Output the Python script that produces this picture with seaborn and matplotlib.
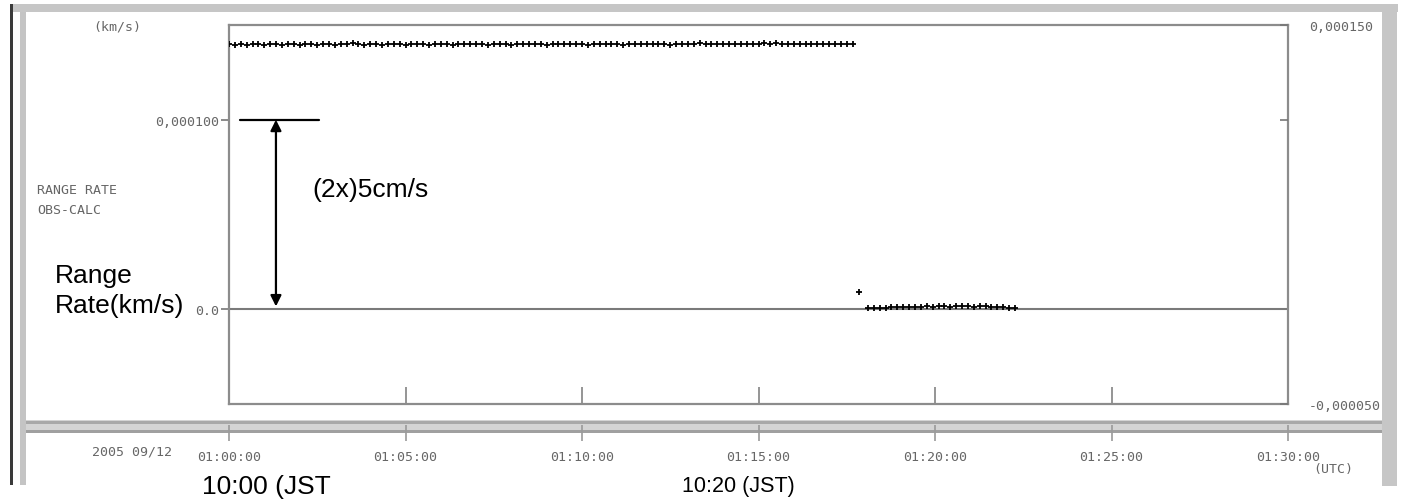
import numpy as np
import pandas as pd
import matplotlib
matplotlib.use("Agg")
import matplotlib.pyplot as plt
from matplotlib import font_manager
from matplotlib.patches import Rectangle
import seaborn as sns

# ---------------- data ----------------
x_ticks_min = [0, 5, 10, 15, 20, 25, 30]
x_tick_labels = ["01:00:00", "01:05:00", "01:10:00", "01:15:00",
                 "01:20:00", "01:25:00", "01:30:00"]
y_left_ticks = [0.0, 0.0001]
y_left_labels = ["0.0", "0,000100"]
y_right_ticks = [-0.00005, 0.0001, 0.00015]
y_right_labels = ["-0,000050", "", "0,000150"]

cadence_min = 1.0 / 6.0          # one sample every 10 s
a_start_min = 0.0
# range-rate residuals, pass A (units of 1e-6 km/s)
rr_a = [139.9, 139.7, 140.0, 139.6, 139.8, 140.1, 139.7, 139.9, 139.8, 139.6,
        140.0, 139.8, 139.7, 140.2, 139.9, 139.6, 139.8, 140.0, 139.7, 139.9,
        139.8, 140.3, 139.9, 139.7, 139.8, 140.0, 139.6, 139.9, 139.8, 140.1,
        139.7, 139.9, 140.0, 139.8, 139.6, 139.9, 140.2, 139.8, 139.7, 139.9,
        140.0, 139.8, 139.9, 140.1, 139.7, 139.8, 140.0, 139.9, 139.6, 139.8,
        140.1, 139.9, 139.8, 140.0, 139.7, 139.9, 140.2, 139.8, 139.9, 140.0,
        139.8, 139.7, 140.0, 139.9, 139.8, 140.1, 139.9, 139.7, 140.0, 139.8,
        139.9, 140.2, 139.8, 139.9, 140.0, 139.7, 139.9, 140.1, 139.8, 139.9,
        140.3, 140.1, 139.9, 140.0, 139.8, 140.2, 139.9, 140.0, 139.8, 139.9,
        140.0, 140.4, 140.2, 140.3, 140.1, 139.9, 140.0, 140.2, 139.8, 140.0,
        140.1, 139.9, 140.0, 140.2, 139.9, 140.1, 140.0]
outlier_t_min = 17.85
outlier_rr = 9.0
b_start_min = 18.1
# range-rate residuals, pass B (units of 1e-6 km/s)
rr_b = [0.6, 0.8, 0.7, 0.9, 1.1, 1.0, 1.2, 1.3, 1.4, 1.3, 1.5, 1.4, 1.6,
        1.5, 1.4, 1.7, 1.6, 1.5, 1.4, 1.6, 1.5, 1.3, 1.4, 1.1, 0.8, 0.4]

# ---------------- build table ----------------
t_a = a_start_min + cadence_min * np.arange(len(rr_a))
t_b = b_start_min + cadence_min * np.arange(len(rr_b))
df = pd.DataFrame({
    "t": np.concatenate([t_a, [outlier_t_min], t_b]),
    "rr": np.concatenate([rr_a, [outlier_rr], rr_b]) * 1e-6,
})

# ---------------- style ----------------
sns.set_style("white")
plt.rcParams["font.family"] = ["DejaVu Sans Mono", "DejaVu Sans"]
avail = {f.name for f in font_manager.fontManager.ttflist}
SANS = "Liberation Sans" if "Liberation Sans" in avail else "DejaVu Sans"

W, H = 1404, 502
fig = plt.figure(figsize=(W / 100, H / 100), dpi=100)
fig.patch.set_facecolor("white")


def fx(x):
    return x / W


def fy(y):
    return 1 - y / H


def rect(x1, y1, x2, y2, color, z=0):
    fig.add_artist(Rectangle((fx(x1), fy(y2)), fx(x2) - fx(x1), fy(y1) - fy(y2),
                             transform=fig.transFigure, facecolor=color,
                             edgecolor="none", zorder=z))


# window decoration
rect(10, 5, 1398, 13, "#c6c6c6")
rect(10, 5, 13, 486, "#3a3a3a")
rect(20, 13, 26, 486, "#c4c4c4")
rect(1382, 5, 1397, 487, "#c6c6c6")
rect(26, 421, 1382, 434, "#d4d4d4")
rect(26, 422, 1382, 425, "#a8a8a8")
rect(26, 431, 1382, 434, "#a0a0a0")

SP = "#8c8c8c"
TXT = "#666666"

ax = fig.add_axes([fx(229), fy(405), fx(1288) - fx(229), fy(26) - fy(405)])
ax.set_facecolor("white")
ax.axhline(0, color="#7a7a7a", lw=1.5, zorder=1)
sns.scatterplot(data=df, x="t", y="rr", marker="+", color="black", s=16,
                linewidth=1.3, ax=ax, legend=False, zorder=3)
ax.set_xlim(0, 30)
ax.set_ylim(-0.00005, 0.00015)
ax.set_xlabel("")
ax.set_ylabel("")
for s in ax.spines.values():
    s.set_color(SP)
    s.set_linewidth(1.6)

ax.set_xticks(x_ticks_min)
ax.set_xticklabels([])
ax.tick_params(axis="x", direction="in", length=12, width=1.3, color=SP,
               bottom=True, top=False, labelbottom=False)
ax.set_yticks(y_left_ticks)
ax.set_yticklabels(y_left_labels)
ax.tick_params(axis="y", direction="out", length=6, width=1.2, color="#777777",
               labelsize=9.5, labelcolor=TXT, pad=1, left=True)

ax2 = ax.twinx()
ax2.set_ylim(-0.00005, 0.00015)
ax2.set_yticks(y_right_ticks)
ax2.set_yticklabels(y_right_labels)
ax2.tick_params(axis="y", direction="in", length=6, width=1.2, color="#777777",
                labelsize=9.5, labelcolor=TXT, pad=15)
for s in ax2.spines.values():
    s.set_visible(False)

sec = ax.secondary_xaxis(-(434 - 405) / (405 - 26))
sec.set_xticks(x_ticks_min)
sec.set_xticklabels(x_tick_labels)
sec.tick_params(direction="inout", length=12, width=1.2, color="#9a9a9a",
                labelsize=9.5, labelcolor=TXT, pad=6)
sec.spines["bottom"].set_visible(False)

# small labels from the original software
def small(x, y, s, ha="left"):
    fig.text(fx(x), fy(y), s, ha=ha, va="center", fontsize=9.5, color=TXT)

small(117, 27, "(km/s)", ha="center")
small(37, 190, "RANGE RATE")
small(37, 210, "OBS-CALC")
small(132, 452, "2005 09/12", ha="center")
small(1333, 470, "(UTC)", ha="center")

# annotations
ax.plot([0.31, 2.55], [0.0001, 0.0001], color="black", lw=1.6, zorder=4)
ax.annotate("", xy=(1.33, 0.0001), xytext=(1.33, 0.0000015),
            arrowprops=dict(arrowstyle="<|-|>", color="black", lw=1.6,
                            mutation_scale=16, shrinkA=0, shrinkB=0), zorder=4)

fig.text(fx(312), fy(190), "(2x)5cm/s", ha="left", va="center",
         fontsize=19, family=SANS, color="black")
fig.text(fx(55), fy(291), "Range\nRate(km/s)", ha="left", va="center",
         fontsize=19, family=SANS, color="black", linespacing=1.3)
fig.text(fx(202), fy(487), "10:00 (JST", ha="left", va="center",
         fontsize=19, family=SANS, color="black")
fig.text(fx(738), fy(487), "10:20 (JST)", ha="center", va="center",
         fontsize=15.5, family=SANS, color="black")

fig.savefig("out.png", dpi=100, facecolor="white")
